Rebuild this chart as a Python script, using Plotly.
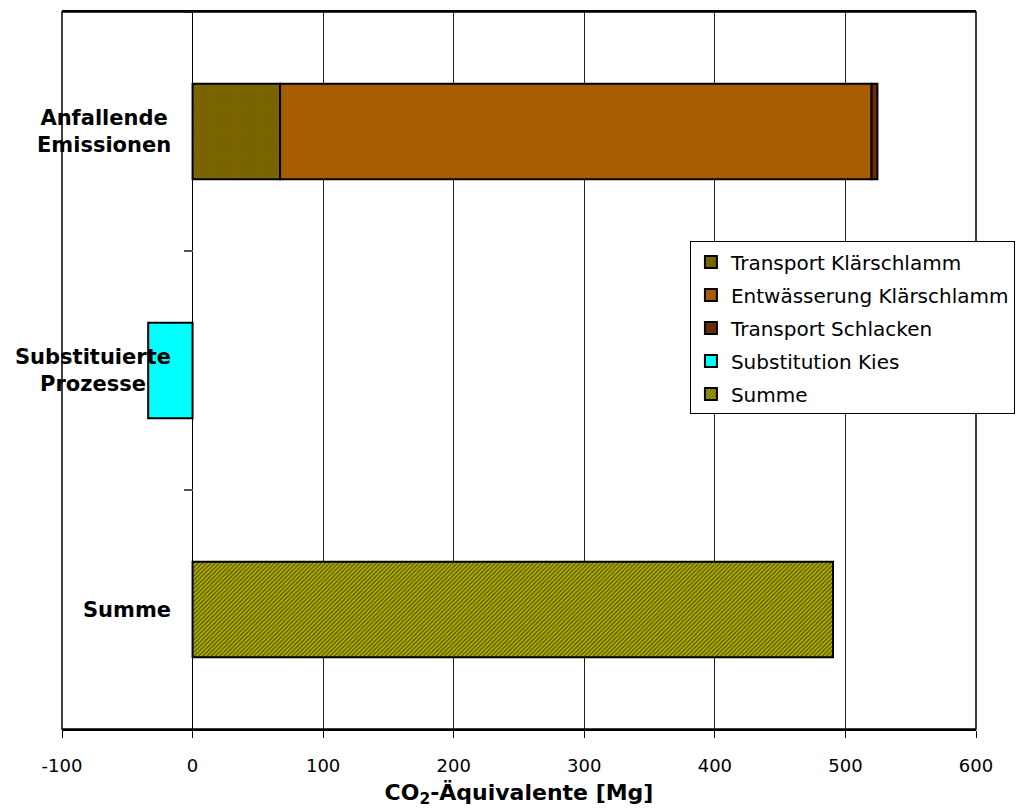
import plotly.graph_objects as go

# Categories (top to bottom) and contributions in Mg CO2-equivalents
categories = ["Anfallende Emissionen", "Substituierte Prozesse", "Summe"]
category_labels = ["Anfallende<br>Emissionen", "Substituierte<br>Prozesse", "Summe"]

transport_klaerschlamm = [67, None, None]
entwaesserung_klaerschlamm = [453, None, None]
transport_schlacken = [4.5, None, None]
substitution_kies = [None, -34, None]
summe = [None, None, 490.5]

x_ticks = [-100, 0, 100, 200, 300, 400, 500, 600]
x_tick_text = ["-100", "0", "100", "200", "300", "400", "500", "600"]

FONT = "DejaVu Sans"

series = [
    ("Transport Klärschlamm", transport_klaerschlamm,
     dict(color="#7C6600", pattern=dict(shape=".", fgcolor="#6A5600", bgcolor="#7C6600", size=3, solidity=0.3))),
    ("Entwässerung Klärschlamm", entwaesserung_klaerschlamm,
     dict(color="#A85F00", pattern=dict(shape=".", fgcolor="#955200", bgcolor="#A85F00", size=3, solidity=0.3))),
    ("Transport Schlacken", transport_schlacken,
     dict(color="#6B2E00", pattern=dict(shape=".", fgcolor="#5A2600", bgcolor="#6B2E00", size=3, solidity=0.3))),
    ("Substitution Kies", substitution_kies,
     dict(color="#00FFFF")),
    ("Summe", summe,
     dict(color="#B8B800", pattern=dict(shape="/", fgcolor="#000000", bgcolor="#B8B800", size=3, solidity=0.5))),
]

fig = go.Figure()
for i, (name, values, marker) in enumerate(series):
    marker = dict(marker)
    marker["line"] = dict(color="#000000", width=2)
    fig.add_trace(go.Bar(
        name=name,
        y=categories,
        x=values,
        orientation="h",
        marker=marker,
        legendgroup=f"g{i}",
    ))

# Category labels centred next to the zero axis
for cat, lab in zip(categories, category_labels):
    fig.add_annotation(
        x=0, y=cat, xref="x", yref="y",
        text=f"<b>{lab}</b>", showarrow=False,
        xanchor="right", xshift=-20, align="center",
        font=dict(family=FONT, size=21, color="#000000"),
    )

fig.update_layout(
    width=1026, height=812,
    margin=dict(l=62, r=50, t=10, b=83),
    paper_bgcolor="#FFFFFF",
    plot_bgcolor="#FFFFFF",
    barmode="relative",
    bargap=0.6,
    font=dict(family=FONT, size=18, color="#000000"),
    xaxis=dict(
        range=[-100, 600],
        tickvals=x_ticks, ticktext=x_tick_text,
        ticks="outside", ticklen=7, tickcolor="#000000", tickwidth=1,
        ticklabelstandoff=13,
        showgrid=True, gridcolor="#222222", gridwidth=1,
        zeroline=True, zerolinecolor="#000000", zerolinewidth=1,
        showline=True, linecolor="#000000", linewidth=1.5, mirror=True,
        tickfont=dict(family=FONT, size=18),
        title=dict(text="<b>CO<sub>2</sub>-Äquivalente [Mg]</b>",
                   font=dict(family=FONT, size=22), standoff=9),
    ),
    yaxis=dict(
        categoryorder="array", categoryarray=categories,
        autorange="reversed",
        anchor="free", position=1 / 7,
        showticklabels=False,
        ticks="outside", tickson="boundaries", ticklen=9,
        tickcolor="#555555", tickwidth=2,
        showgrid=False, showline=False, zeroline=False,
    ),
    legend=dict(
        x=0.687, y=0.68, xanchor="left", yanchor="top",
        bgcolor="#FFFFFF", bordercolor="#000000", borderwidth=1,
        font=dict(family=FONT, size=20, color="#000000"),
        tracegroupgap=4,
        traceorder="grouped",
    ),
    showlegend=True,
)

# Left and right borders of the plot area
fig.add_shape(type="rect", xref="paper", yref="paper", x0=0, x1=1, y0=0, y1=1,
              line=dict(color="#000000", width=1.5), layer="above")

fig.write_html("out.html")
